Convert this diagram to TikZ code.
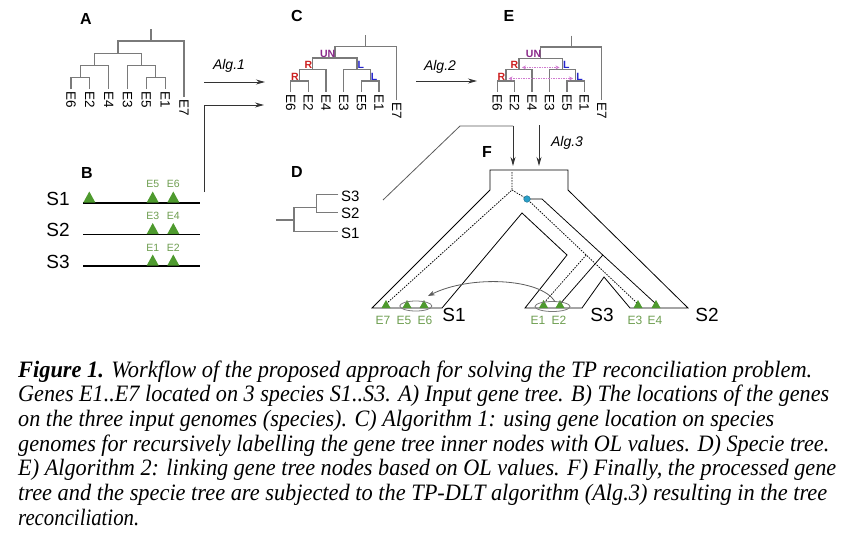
\documentclass[tikz,border=0pt]{standalone}
\usepackage{fontspec}
\setmainfont{Liberation Sans}
\newfontfamily\capfont{Liberation Serif}
\usepackage{graphicx}
\usetikzlibrary{arrows.meta}
\definecolor{treegray}{HTML}{7A7A7A}
\definecolor{rcol}{HTML}{CC2020}
\definecolor{lcol}{HTML}{2525CC}
\definecolor{uncol}{HTML}{8A2A8A}
\definecolor{linkcol}{HTML}{D07AD0}
\definecolor{trigreen}{HTML}{4E9A2E}
\definecolor{txtgreen}{HTML}{6E9E50}
\definecolor{dotblue}{HTML}{2A9FC8}
\definecolor{conn}{HTML}{333333}
\tikzset{
  treeline/.style={draw=treegray, line width=1.3pt},
  leaf/.style={rotate=-90, anchor=west, inner sep=0pt, font=\fontsize{13.5}{13.5}\selectfont},
  panel/.style={inner sep=0pt, font=\bfseries\fontsize{16}{16}\selectfont},
  ollab/.style={inner sep=0pt, font=\bfseries\fontsize{10.5}{10.5}\selectfont},
  algtxt/.style={inner sep=0pt, font=\itshape\fontsize{14}{14}\selectfont},
  conarrow/.style={draw=conn, line width=0.9pt, -{Stealth[length=9pt,width=5pt]}},
  conline/.style={draw=conn!80, line width=0.8pt},
  genome/.style={draw=black, line width=1.8pt},
  bigS/.style={inner sep=0pt, font=\fontsize{19}{19}\selectfont},
  smallS/.style={inner sep=0pt, font=\fontsize{15}{15}\selectfont},
  glab/.style={inner sep=0pt, text=txtgreen, font=\fontsize{10.5}{10.5}\selectfont},
  flab/.style={inner sep=0pt, text=txtgreen, font=\fontsize{12}{12}\selectfont},
  tube/.style={draw=black, line width=0.8pt, line join=miter},
  gdash/.style={draw=black, line width=0.75pt, dash pattern=on 1.5pt off 1.2pt},
  gsolid/.style={draw=black, line width=0.75pt},
  link/.style={draw=linkcol, line width=0.8pt, dash pattern=on 1.5pt off 1pt, {Stealth[length=4pt,width=4pt]}-{Stealth[length=4pt,width=4pt]}},
  capline/.style={anchor=base west, inner sep=0pt, font=\capfont\itshape\fontsize{23.5}{25}\selectfont},
}
% x0, d, ytop, step, yleaf, prefix
\newcommand\genetree[6]{%
 \pgfmathsetmacro\gtYa{#3+#4}%
 \pgfmathsetmacro\gtYb{#3+2*#4}%
 \pgfmathsetmacro\gtYc{#3+3*#4}%
 \pgfmathsetmacro\gtYd{#3+4*#4}%
 \pgfmathsetmacro\gtYl{#5}%
 \pgfmathsetmacro\gtYs{#5+8}%
 \draw[treeline] ({#1+4.25*#2},#3) -- ({#1+4.25*#2},\gtYa);
 \draw[treeline] ({#1+2.5*#2},\gtYb) |- ({#1+6*#2},\gtYa) -- ({#1+6*#2},\gtYs);
 \draw[treeline] ({#1+1.25*#2},\gtYc) |- ({#1+3.75*#2},\gtYb) -- ({#1+3.75*#2},\gtYc);
 \draw[treeline] ({#1+0.5*#2},\gtYd) |- ({#1+2*#2},\gtYc) -- ({#1+2*#2},\gtYl);
 \draw[treeline] (#1,\gtYl) |- ({#1+#2},\gtYd) -- ({#1+#2},\gtYl);
 \draw[treeline] ({#1+3*#2},\gtYl) |- ({#1+4.5*#2},\gtYc) -- ({#1+4.5*#2},\gtYd);
 \draw[treeline] ({#1+4*#2},\gtYl) |- ({#1+5*#2},\gtYd) -- ({#1+5*#2},\gtYl);
 \foreach \i/\lab in {0/E6,1/E2,2/E4,3/E3,4/E5,5/E1}
   \node[leaf] (#6\lab) at ({#1+\i*#2},{\gtYl+2.5}) {\lab};
 \node[leaf] (#6E7) at ({#1+6*#2},{\gtYs+2.5}) {E7};
}
\newcommand\gtri[4]{\fill[trigreen] ({#1-#3},#2) -- ({#1+#3},#2) -- (#1,{#2-#4}) -- cycle;}
\begin{document}
\begin{tikzpicture}[x=1pt,y=-1pt]
\useasboundingbox (0,0) rectangle (850,541);
\fill[white] (0,0) rectangle (850,541);

% ---------- panel letters
\node[panel] (pA) at (86,19) {A};
\node[panel] (pB) at (87,173) {B};
\node[panel] (pC) at (297,16) {C};
\node[panel] (pD) at (297,172) {D};
\node[panel] (pE) at (509,16) {E};
\node[panel] (pF) at (487,152) {F};

% ---------- gene trees
\genetree{71}{18.83}{29}{12.1}{89}{a}
\genetree{290.7}{17.67}{35}{11.5}{91.7}{c}
\genetree{497.3}{17.4}{35.7}{11.3}{91.7}{e}

% OL labels, C
\node[ollab, text=uncol, anchor=south east] (cUN) at (335.4,57.5) {UN};
\node[ollab, text=rcol, anchor=south east] (cR1) at (312.3,69) {R};
\node[ollab, text=rcol, anchor=south east] (cR2) at (299,80.5) {R};
\node[ollab, text=lcol, anchor=south west] (cL1) at (357.5,69) {L};
\node[ollab, text=lcol, anchor=south west] (cL2) at (370.7,80.5) {L};
% OL labels, E
\node[ollab, text=uncol, anchor=south east] (eUN) at (541.3,57.8) {UN};
\node[ollab, text=rcol, anchor=south east] (eR1) at (518.5,69.1) {R};
\node[ollab, text=rcol, anchor=south east] (eR2) at (505.5,80.4) {R};
\node[ollab, text=lcol, anchor=south west] (eL1) at (563,69.1) {L};
\node[ollab, text=lcol, anchor=south west] (eL2) at (576.1,80.4) {L};
\draw[link] (522,67.4) -- (559.5,67.4);
\draw[link] (508.5,78.5) -- (573,78.5);

% ---------- algorithm arrows
\coordinate (a1s) at (204,82);
\coordinate (a1e) at (265,82);
\draw[conarrow] (a1s) -- (a1e);
\node[algtxt] (alg1) at (229,66) {Alg.1};
\coordinate (a2s) at (416,81);
\coordinate (a2e) at (477,81);
\draw[conarrow] (a2s) -- (a2e);
\node[algtxt] (alg2) at (440,66.5) {Alg.2};
\coordinate (bs) at (204,192);
\coordinate (be) at (264,105);
\draw[conarrow] (bs) |- (be);
\coordinate (ds) at (383,200);
\coordinate (dk) at (460,126);
\coordinate (dk2) at (513,126);
\coordinate (de) at (513,166);
\draw[conline] (ds) -- (dk) -- (dk2);
\draw[conarrow] (dk2) -- (de);
\coordinate (a3s) at (539,125);
\coordinate (a3e) at (539,166);
\draw[conarrow] (a3s) -- (a3e);
\node[algtxt] (alg3) at (567,143) {Alg.3};

% ---------- panel B: genomes
\node[bigS] (bS1) at (58,199) {S1};
\node[bigS] (bS2) at (58,230) {S2};
\node[bigS] (bS3) at (58,262) {S3};
\coordinate (g1a) at (83,203); \coordinate (g1b) at (200,203);
\coordinate (g2a) at (83,234.5); \coordinate (g2b) at (200,234.5);
\coordinate (g3a) at (83,266); \coordinate (g3b) at (200,266);
\draw[genome] (g1a) -- (g1b);
\draw[genome] (g2a) -- (g2b);
\draw[genome] (g3a) -- (g3b);
\gtri{89.3}{202.5}{6}{11}
\gtri{152.7}{202.5}{6}{11}
\gtri{173.3}{202.5}{6}{11}
\gtri{152.7}{234}{6}{11}
\gtri{173.3}{234}{6}{11}
\gtri{152.7}{265.5}{6}{11}
\gtri{173.3}{265.5}{6}{11}
\node[glab] (bE5) at (152.7,183.5) {E5};
\node[glab] (bE6) at (173.3,183.5) {E6};
\node[glab] (bE3) at (152.7,215.5) {E3};
\node[glab] (bE4) at (173.3,215.5) {E4};
\node[glab] (bE1) at (152.7,247.5) {E1};
\node[glab] (bE2) at (173.3,247.5) {E2};

% ---------- panel D: species tree
\draw[treeline] (276,220) -- (294,220);
\draw[treeline] (316.7,212.7) |- (294,207.3) |- (338.3,231.7);
\draw[treeline] (338.3,194.3) -| (316.7,212.7) -- (338.3,212.7);
\node[smallS, anchor=west] (dS3) at (341,196) {S3};
\node[smallS, anchor=west] (dS2) at (341,213.5) {S2};
\node[smallS, anchor=west] (dS1) at (341,233) {S1};

% ---------- panel F: reconciliation
\draw[tube] (372,308) -- (490,190) -- (490,170) -- (568,170) -- (568,190) -- (688,308)
  -- (630,308) -- (604,277) -- (582,308) -- (525,308) -- (567,255) -- (522,213) -- (442,308) -- cycle;
\coordinate (groot) at (512,172);
\coordinate (gtop) at (512,190);
\coordinate (gE7) at (386,304);
\coordinate (gdot) at (527,199);
\coordinate (gdotr) at (542,199);
\coordinate (gE3) at (638,304);
\coordinate (gE4) at (656,304);
\coordinate (gE1) at (543,304);
\coordinate (gE2) at (560,304);
\coordinate (gs1) at (586.2,255);
\coordinate (gs2) at (602.8,255);
\draw[gdash] (groot) -- (gtop) -- (gE7);
\draw[gdash] (gtop) -- (gdot) -- (gE3);
\draw[gsolid] (gdot) -- (gdotr) -- (gE4);
\draw[gdash] (gs1) -- (gE1);
\draw[gsolid] (gs2) -- (gE2);
\fill[dotblue] (gdot) circle (3.3);
\draw[dotblue!70!black, line width=0.4pt] (gdot) circle (3.3);
\gtri{386}{308}{4.5}{8}
\gtri{407}{308}{4.5}{8}
\gtri{424}{308}{4.5}{8}
\gtri{543.5}{308}{4.5}{8}
\gtri{560}{308}{4.5}{8}
\gtri{638}{308}{4.5}{8}
\gtri{656}{308}{4.5}{8}
\draw[treegray, line width=0.8pt] (415.8,306) ellipse (16 and 5);
\draw[treegray, line width=0.8pt] (552.5,306.5) ellipse (17.5 and 5);
\coordinate (trs) at (555,301.5);
\coordinate (tre) at (428,296);
\draw[draw=conn!80, line width=0.8pt, -{Stealth[length=7pt,width=5pt]}] (trs) .. controls (540,278) and (470,275) .. (tre);
\node[flab] (fE7) at (383,320) {E7};
\node[flab] (fE5) at (404,320) {E5};
\node[flab] (fE6) at (425,320) {E6};
\node[flab] (fE1) at (538,320) {E1};
\node[flab] (fE2) at (559,320) {E2};
\node[flab] (fE3) at (635,320) {E3};
\node[flab] (fE4) at (655,320) {E4};
\node[bigS] (fS1) at (454,315) {S1};
\node[bigS] (fS3) at (602,315) {S3};
\node[bigS] (fS2) at (707,315) {S2};

% ---------- caption
\node[capline] (cap1) at (18,377) {\resizebox{794pt}{\height}{\textbf{Figure 1.} Workflow of the proposed approach for solving the TP reconciliation problem.}};
\node[capline] (cap2) at (18,401.7) {\resizebox{811pt}{\height}{Genes E1..E7 located on 3 species S1..S3. A) Input gene tree. B) The locations of the genes}};
\node[capline] (cap3) at (18,426.4) {\resizebox{756pt}{\height}{on the three input genomes (species). C) Algorithm 1: using gene location on species}};
\node[capline] (cap4) at (18,451.1) {\resizebox{811pt}{\height}{genomes for recursively labelling the gene tree inner nodes with OL values. D) Specie tree.}};
\node[capline] (cap5) at (18,475.8) {\resizebox{818pt}{\height}{E) Algorithm 2: linking gene tree nodes based on OL values. F) Finally, the processed gene}};
\node[capline] (cap6) at (18,500.5) {\resizebox{809pt}{\height}{tree and the specie tree are subjected to the TP-DLT algorithm (Alg.3) resulting in the tree}};
\node[capline] (cap7) at (18,525.2) {\resizebox{121pt}{\height}{reconciliation.}};
\end{tikzpicture}
\end{document}
